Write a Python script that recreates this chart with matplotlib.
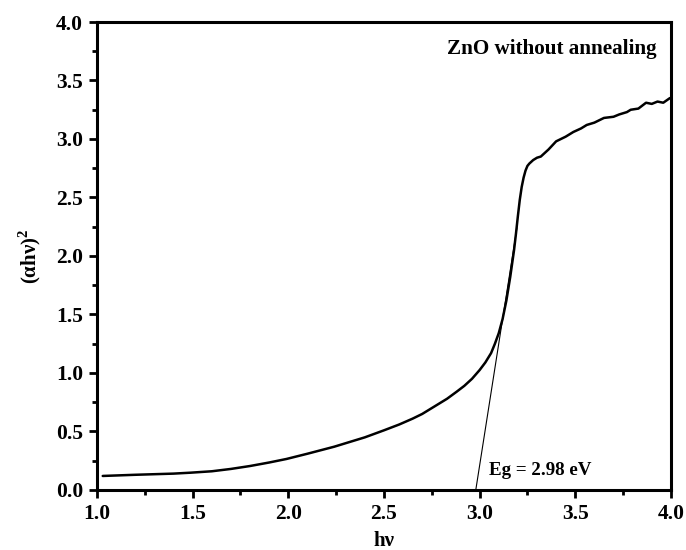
import matplotlib
matplotlib.use("Agg")
import matplotlib.pyplot as plt
from matplotlib.ticker import MultipleLocator

# Tauc plot data
photon_energy = [1.03, 1.2, 1.4, 1.49, 1.6, 1.7, 1.8, 1.9, 1.99, 2.1, 2.24, 2.4, 2.5, 2.58,
                 2.65, 2.7, 2.76, 2.83, 2.88, 2.92, 2.96, 3.00, 3.03, 3.06, 3.08, 3.10,
                 3.12, 3.14, 3.16, 3.18, 3.19, 3.20, 3.21, 3.22, 3.23, 3.24, 3.25, 3.26,
                 3.28, 3.30, 3.32, 3.36, 3.40, 3.45, 3.49, 3.53, 3.56, 3.60, 3.65, 3.70,
                 3.73, 3.77, 3.79, 3.83, 3.87, 3.90, 3.93, 3.96, 3.995]
alpha_hv_sq = [0.12, 0.13, 0.14, 0.148, 0.16, 0.18, 0.205, 0.235, 0.265, 0.31, 0.37, 0.45, 0.51, 0.56,
               0.61, 0.65, 0.71, 0.78, 0.84, 0.89, 0.95, 1.025, 1.09, 1.17, 1.25, 1.34,
               1.46, 1.62, 1.82, 2.05, 2.19, 2.34, 2.48, 2.59, 2.67, 2.73, 2.77, 2.79,
               2.82, 2.84, 2.85, 2.91, 2.98, 3.02, 3.06, 3.09, 3.12, 3.14, 3.18, 3.19,
               3.21, 3.23, 3.25, 3.26, 3.31, 3.30, 3.32, 3.31, 3.35]

# linear fit used for the band gap
tangent_x = [2.98, 3.195]
tangent_y = [0.0, 2.24]
band_gap = "Eg = 2.98 eV"
sample_name = "ZnO without annealing"

plt.rcParams["font.family"] = ["Liberation Serif", "DejaVu Serif"]
plt.rcParams["font.weight"] = "bold"
plt.rcParams["mathtext.fontset"] = "custom"
plt.rcParams["mathtext.rm"] = "Liberation Serif:bold"

fig = plt.figure(figsize=(6.86, 5.5), dpi=100)
ax = fig.add_axes([0.1414, 0.1091, 0.8366, 0.8509])

ax.plot(photon_energy, alpha_hv_sq, color="black", linewidth=1.8,
        solid_joinstyle="round", solid_capstyle="round")
ax.plot(tangent_x, tangent_y, color="black", linewidth=0.8)

ax.text(3.05, 0.17, band_gap, fontsize=13.7, fontweight="bold", va="center", ha="left")
ax.text(3.926, 3.77, sample_name, fontsize=15.2, fontweight="bold", va="center", ha="right")

ax.set_xlim(1.0, 4.0)
ax.set_ylim(0.0, 4.0)
ax.xaxis.set_major_locator(MultipleLocator(0.5))
ax.xaxis.set_minor_locator(MultipleLocator(0.25))
ax.yaxis.set_major_locator(MultipleLocator(0.5))
ax.yaxis.set_minor_locator(MultipleLocator(0.25))
ax.xaxis.set_major_formatter(plt.FormatStrFormatter("%.1f"))
ax.yaxis.set_major_formatter(plt.FormatStrFormatter("%.1f"))

ax.tick_params(which="major", direction="out", length=6, width=2, labelsize=15.5, pad=4)
ax.tick_params(which="minor", direction="out", length=3.5, width=2)
for lbl in ax.get_xticklabels() + ax.get_yticklabels():
    lbl.set_fontweight("bold")
for sp in ax.spines.values():
    sp.set_linewidth(2.2)

ax.set_xlabel("hν", fontsize=15, fontweight="bold", labelpad=5)
ax.set_ylabel("(αhν)$^{2}$", fontsize=15, fontweight="bold", labelpad=9)

fig.savefig("out.png", dpi=100)
